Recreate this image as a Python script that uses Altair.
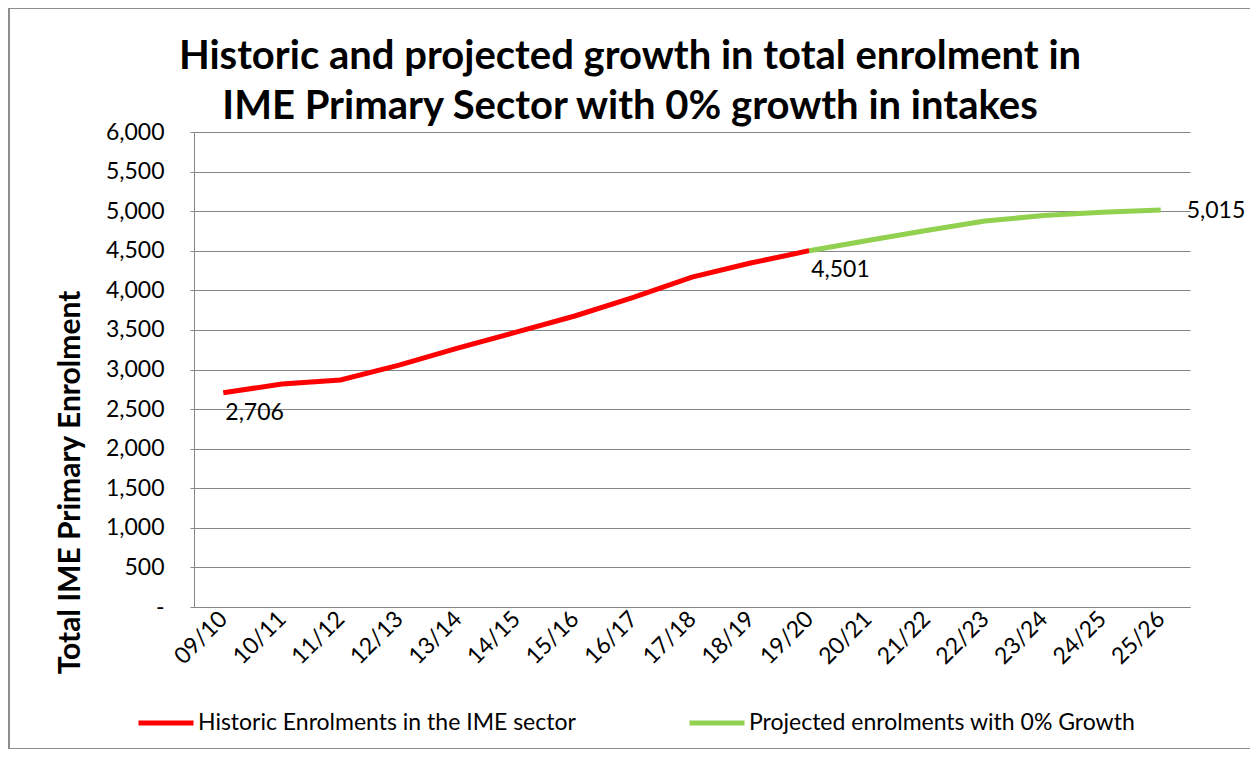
import altair as alt
import pandas as pd

years = ["09/10", "10/11", "11/12", "12/13", "13/14", "14/15", "15/16", "16/17",
         "17/18", "18/19", "19/20", "20/21", "21/22", "22/23", "23/24", "24/25", "25/26"]
historic = [2706, 2817, 2867, 3055, 3270, 3472, 3676, 3912, 4168, 4345, 4501]
projected = [4501, 4630, 4755, 4875, 4945, 4985, 5015]
y_ticks = [0, 500, 1000, 1500, 2000, 2500, 3000, 3500, 4000, 4500, 5000, 5500, 6000]

S_HIST = "Historic Enrolments in the IME sector"
S_PROJ = "Projected enrolments with 0% Growth"

rows = []
for y, v in zip(years[:11], historic):
    rows.append({"year": y, "value": v, "series": S_HIST})
for y, v in zip(years[10:], projected):
    rows.append({"year": y, "value": v, "series": S_PROJ})
df = pd.DataFrame(rows)

labels = pd.DataFrame({
    "year": ["09/10", "19/20", "25/26"],
    "value": [historic[0], historic[-1], projected[-1]],
    "which": ["first", "mid", "last"],
})

FONT = "Lato"
GRID = "#868686"

x_enc = alt.X("year:N", sort=years, title=None,
              scale=alt.Scale(domain=years, paddingInner=0, paddingOuter=0.5),
              axis=alt.Axis(labelAngle=-45, labelAlign="right", labelBaseline="middle",
                            labelFontSize=23, labelFont=FONT, labelColor="black",
                            ticks=False, labelPadding=8, domainColor=GRID, grid=False,
                            labelOverlap=False))
y_enc = alt.Y("value:Q", title="Total IME Primary Enrolment",
              scale=alt.Scale(domain=[0, 6000], nice=False),
              axis=alt.Axis(values=y_ticks,
                            labelExpr="datum.value == 0 ? '-' : format(datum.value, ',')",
                            labelFontSize=23, labelFont=FONT, labelColor="black",
                            labelOverlap=False, labelBound=False, labelFlush=False,
                            tickSize=4, tickColor=GRID, labelPadding=26,
                            gridColor=GRID, domainColor=GRID,
                            titleFont=FONT, titleFontSize=30, titleFontWeight="bold",
                            titleColor="black", titlePadding=20, titleY=350))

lines = alt.Chart(df).mark_line(strokeWidth=5).encode(
    x=x_enc, y=y_enc,
    color=alt.Color("series:N",
                    scale=alt.Scale(domain=[S_HIST, S_PROJ], range=["#ff0000", "#92d050"]),
                    legend=alt.Legend(title=None, orient="none", legendX=-58, legendY=561,
                                      direction="horizontal", symbolType="stroke",
                                      symbolStrokeWidth=5, symbolSize=3025,
                                      labelFont=FONT, labelFontSize=23, labelColor="black",
                                      labelLimit=700, columnPadding=103, symbolOffset=0,
                                      labelOffset=2)),
    detail="series:N",
)

def lab(which, **kw):
    return alt.Chart(labels).transform_filter(alt.datum.which == which).mark_text(
        font=FONT, fontSize=23, color="black", **kw
    ).encode(x=x_enc, y=y_enc, text=alt.Text("value:Q", format=","))

t1 = lab("first", align="left", baseline="top", dx=2, dy=9)
t2 = lab("mid", align="left", baseline="top", dx=2, dy=8)
t3 = lab("last", align="left", baseline="middle", dx=26, dy=1)

frame = alt.Chart(labels).mark_rect(fill=None, stroke="#8c8c8c", strokeWidth=1.5).encode(
    x=alt.value(-185), x2=alt.value(1058), y=alt.value(-124), y2=alt.value(617))

chart = alt.layer(frame, lines, t1, t2, t3).properties(
    width=996, height=475,
    title=alt.Title(["Historic and projected growth  in total enrolment in",
                     "IME Primary Sector with 0% growth in intakes"],
                    font=FONT, fontSize=40, fontWeight="bold", color="black",
                    anchor="middle", dx=-62, dy=130, lineHeight=50, offset=10),
    autosize=alt.AutoSizeParams(type="none"),
    padding={"left": 186, "top": 124, "right": 60, "bottom": 142},
).configure_view(stroke=None).configure_axis(labelFont=FONT)

chart.save("out.html", embed_options={"renderer": "svg", "actions": False})
